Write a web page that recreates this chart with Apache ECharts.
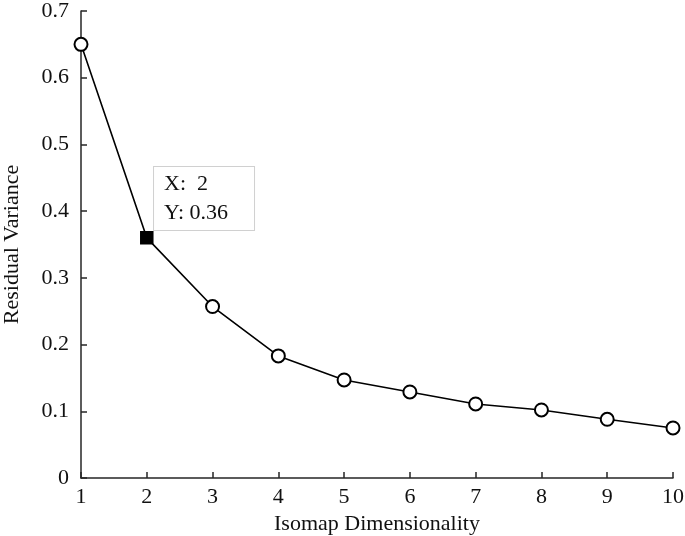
<!DOCTYPE html>
<html><head><meta charset="utf-8">
<script src="https://cdn.jsdelivr.net/npm/echarts@6/dist/echarts.min.js"></script>
<style>html,body{margin:0;padding:0;background:#fff}#c{width:685px;height:536px}</style>
</head><body><div id="c"></div>
<script>
const dims = [1, 2, 3, 4, 5, 6, 7, 8, 9, 10];
const residual = [0.65, 0.36, 0.257, 0.183, 0.147, 0.129, 0.111, 0.102, 0.088, 0.075];
const yTicks = [0, 0.1, 0.2, 0.3, 0.4, 0.5, 0.6, 0.7];
const highlightIndex = 1;

const font = 'Liberation Serif';
const data = dims.map((d, i) => {
  const item = { value: [d, residual[i]] };
  if (i === highlightIndex) {
    item.symbol = 'rect';
    item.symbolSize = 12;
    item.itemStyle = { color: '#000', borderColor: '#000' };
    item.label = {
      show: true,
      position: [14, -64],
      align: 'left',
      verticalAlign: 'top',
      formatter: 'X:  ' + d + '\nY: ' + residual[i],
      fontFamily: font,
      fontSize: 22,
      color: '#111',
      lineHeight: 29,
      backgroundColor: '#fff',
      borderColor: '#d0d0d0',
      borderWidth: 1,
      padding: [3, 22, 2, 10],
      width: 68
    };
  }
  return item;
});

const chart = echarts.init(document.getElementById('c'));
chart.setOption({
  animation: false,
  grid: { left: 81, right: 12, top: 11, bottom: 58, containLabel: false, outerBoundsMode: 'none' },
  xAxis: {
    type: 'value', min: 1, max: 10, interval: 1,
    name: 'Isomap Dimensionality', nameLocation: 'middle', nameGap: 32,
    nameTextStyle: { fontFamily: font, fontSize: 22, color: '#111' },
    axisLine: { show: true, lineStyle: { color: '#262626', width: 1.5 } },
    axisTick: { show: true, inside: true, length: 6, lineStyle: { color: '#262626', width: 1.5 } },
    axisLabel: { fontFamily: font, fontSize: 22, color: '#111', margin: 8, hideOverlap: false },
    splitLine: { show: false }
  },
  yAxis: {
    type: 'value', min: yTicks[0], max: yTicks[yTicks.length - 1], interval: 0.1,
    name: 'Residual Variance', nameLocation: 'middle', nameGap: 58, nameRotate: 90,
    nameTextStyle: { fontFamily: font, fontSize: 22, color: '#111' },
    axisLine: { show: true, lineStyle: { color: '#262626', width: 1.5 } },
    axisTick: { show: true, inside: true, length: 6, lineStyle: { color: '#262626', width: 1.5 } },
    axisLabel: { fontFamily: font, fontSize: 22, color: '#111', margin: 12, hideOverlap: false,
      formatter: v => String(Math.round(v * 10) / 10) },
    splitLine: { show: false }
  },
  series: [{
    type: 'line',
    data: data,
    symbol: 'emptyCircle',
    symbolSize: 13,
    showAllSymbols: true,
    lineStyle: { color: '#000', width: 1.6 },
    itemStyle: { color: '#000', borderColor: '#000', borderWidth: 1.5 },
    z: 3
  }]
});
</script></body></html>
